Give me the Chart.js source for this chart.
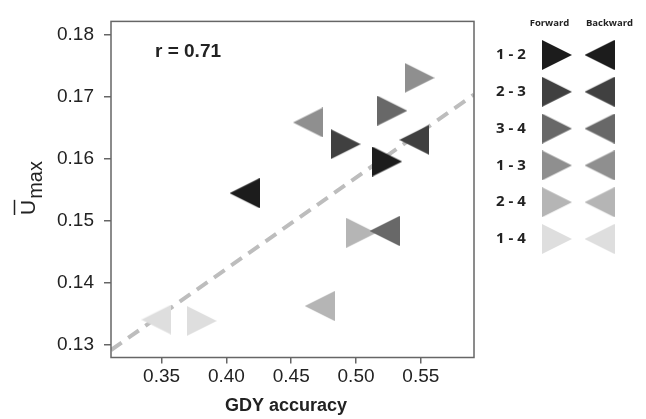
<!DOCTYPE html>
<html>
<head>
<meta charset="utf-8">
<script src="https://cdn.jsdelivr.net/npm/chart.js@4.4.0/dist/chart.umd.min.js"></script>
<style>
html, body { margin: 0; padding: 0; background: #fff; }
canvas { display: block; }
</style>
</head>
<body>
<canvas id="graphique" width="646" height="419"></canvas>
<script>
// paires de couches et leur niveau de gris
var pairs = ['1 - 2', '2 - 3', '3 - 4', '1 - 3', '2 - 4', '1 - 4'];
var greys = ['#1c1c1c', '#404040', '#686868', '#8f8f8f', '#b5b5b5', '#dedede'];

// valeurs
var forwardX = [0.524, 0.492, 0.528, 0.549, 0.504, 0.381];
var forwardY = [0.1595, 0.1623, 0.1677, 0.1730, 0.1480, 0.1338];
var backwardX = [0.414, 0.545, 0.522, 0.463, 0.472, 0.346];
var backwardY = [0.1544, 0.1630, 0.1483, 0.1658, 0.1362, 0.1340];

// droite de regression (pointillés)
var trendX = [0.311, 0.591];
var trendY = [0.1291, 0.1703];

var xTicks = [0.35, 0.40, 0.45, 0.50, 0.55];
var yTicks = [0.13, 0.14, 0.15, 0.16, 0.17, 0.18];

function triangle(colour, sens) {
	var c = document.createElement('canvas');
	c.width = 30;
	c.height = 30;
	var g = c.getContext('2d');
	g.fillStyle = colour;
	g.beginPath();
	if (sens > 0) {
		g.moveTo(0, 0); g.lineTo(30, 15); g.lineTo(0, 30);
	} else {
		g.moveTo(30, 0); g.lineTo(0, 15); g.lineTo(30, 30);
	}
	g.closePath();
	g.fill();
	return c;
}

var fwdImgs = greys.map(function (c) { return triangle(c, 1); });
var backImgs = greys.map(function (c) { return triangle(c, -1); });

function points(xs, ys) {
	return xs.map(function (x, i) { return { x: x, y: ys[i] }; });
}

var habillage = {
	id: 'habillage',
	afterDraw: function (chart) {
		var ctx = chart.ctx;
		var a = chart.chartArea;
		ctx.save();

		// cadre
		ctx.strokeStyle = '#666';
		ctx.lineWidth = 1.5;
		ctx.strokeRect(a.left, a.top, a.right - a.left, a.bottom - a.top);

		ctx.fillStyle = '#222';
		ctx.textBaseline = 'alphabetic';

		// r = 0.71
		ctx.font = 'bold 19px "Liberation Sans", Arial, sans-serif';
		ctx.textAlign = 'left';
		ctx.fillText('r = 0.71', a.left + 44, a.top + 36);

		// titre axe x
		ctx.font = 'bold 18px "Liberation Sans", Arial, sans-serif';
		ctx.textAlign = 'center';
		ctx.fillText('GDY accuracy', 286, 411);

		// titre axe y : U barre, indice max
		ctx.save();
		ctx.translate(35, 215);
		ctx.rotate(-Math.PI / 2);
		ctx.font = '21px "Liberation Sans", Arial, sans-serif';
		ctx.textAlign = 'left';
		ctx.fillText('U', 0, 0);
		var uw = ctx.measureText('U').width;
		ctx.strokeStyle = '#222';
		ctx.lineWidth = 1.5;
		ctx.beginPath();
		ctx.moveTo(0, -20.5);
		ctx.lineTo(uw, -20.5);
		ctx.stroke();
		ctx.font = '20px "Liberation Sans", Arial, sans-serif';
		ctx.fillText('max', uw + 1, 7);
		ctx.restore();

		// legende
		ctx.font = 'bold 9.5px "Open Sans", sans-serif';
		ctx.textAlign = 'center';
		ctx.textBaseline = 'middle';
		ctx.fillText('Forward', 549.5, 23);
		ctx.fillText('Backward', 609.5, 23);
		ctx.font = 'bold 15px "Open Sans", sans-serif';
		for (var i = 0; i < pairs.length; i++) {
			var y = 55 + i * 36.8;
			ctx.fillText(pairs[i], 511, y);
			ctx.drawImage(fwdImgs[i], 557 - 15, y - 15);
			ctx.drawImage(backImgs[i], 599.5 - 15, y - 15);
		}
		ctx.restore();
	}
};

var ctx = document.getElementById('graphique').getContext('2d');

var config = {
	type: 'scatter',
	data: {
		datasets: [
			{
				label: 'Backward',
				data: points(backwardX, backwardY),
				pointStyle: backImgs,
				order: 1
			},
			{
				label: 'Forward',
				data: points(forwardX, forwardY),
				pointStyle: fwdImgs,
				order: 2
			},
			{
				label: 'r',
				data: points(trendX, trendY),
				showLine: true,
				borderColor: '#bdbdbd',
				borderWidth: 4,
				borderDash: [13, 8],
				pointRadius: 0,
				order: 3
			}
		]
	},
	options: {
		responsive: false,
		animation: false,
		events: [],
		layout: { padding: { top: 13, right: 172, left: 0, bottom: 0 } },
		plugins: { legend: { display: false }, tooltip: { enabled: false } },
		scales: {
			x: {
				type: 'linear',
				min: 0.311,
				max: 0.591,
				afterBuildTicks: function (scale) {
					scale.ticks = xTicks.map(function (v) { return { value: v }; });
				},
				afterFit: function (scale) { scale.height = 61.5; },
				ticks: {
					autoSkip: false,
					maxRotation: 0,
					padding: 2,
					color: '#222',
					font: { family: '"Liberation Sans", Arial, sans-serif', size: 19 },
					callback: function (v) { return v.toFixed(2); }
				},
				grid: { drawOnChartArea: false, tickLength: 6, color: '#666', lineWidth: 1.5 },
				border: { display: false }
			},
			y: {
				type: 'linear',
				min: 0.1279,
				max: 0.1821,
				afterBuildTicks: function (scale) {
					scale.ticks = yTicks.map(function (v) { return { value: v }; });
				},
				afterFit: function (scale) { scale.width = 111; },
				ticks: {
					autoSkip: false,
					padding: 10,
					color: '#222',
					font: { family: '"Liberation Sans", Arial, sans-serif', size: 19 },
					callback: function (v) { return v.toFixed(2); }
				},
				grid: { drawOnChartArea: false, tickLength: 7, color: '#666', lineWidth: 1.5 },
				border: { display: false }
			}
		}
	},
	plugins: [habillage]
};

var graph1 = new Chart(ctx, config);
</script>
</body>
</html>
